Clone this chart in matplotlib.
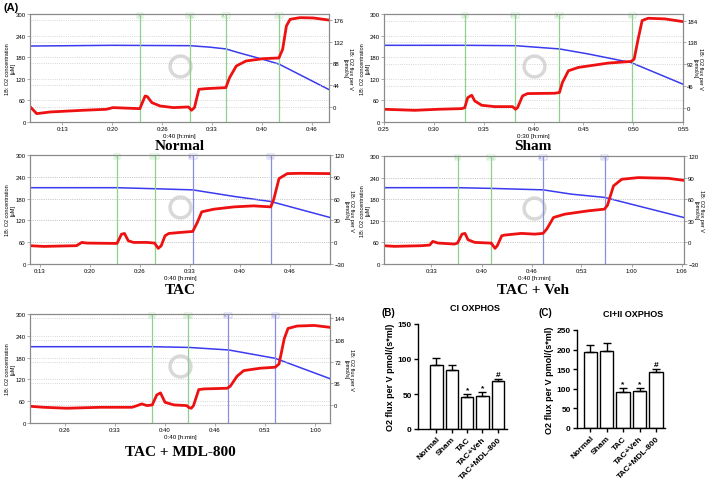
import numpy as np
import matplotlib.pyplot as plt

plt.rcParams['font.family'] = ['Liberation Sans', 'DejaVu Sans']

# O2 flux (red, right axis) and O2 concentration (blue, left axis), time in minutes
normal_flux_t = [9.0, 9.9, 11.7, 16.1, 19.2, 20.1, 23.7, 24.4, 24.7, 25.3, 26.4, 28.2, 30.2, 30.6, 31.0,
                 31.6, 32.6, 35.2, 35.7, 36.6, 37.9, 40.2, 42.3, 42.8, 43.3, 43.8, 45.1, 46.9, 48.9]
normal_flux = [0.7, -13.5, -10.1, -6.7, -4.7, -1.3, -3.4, 22.2, 20.9, 8.8, 2.0, -1.3, 0.0, -6.7, -1.3,
               35.7, 37.1, 39.1, 59.3, 82.9, 93.0, 97.7, 99.1, 116.6, 163.8, 177.3, 180.6, 180.0, 175.9]
normal_o2_t = [9, 20, 30.4, 33, 35.2, 37, 40, 42.3, 49]
normal_o2 = [211, 213, 212, 208, 203, 192, 175, 161, 90]
normal_events = [23.7, 30.4, 35.2, 42.3]

sham_flux_t = [25.0, 28.1, 30.4, 32.8, 33.1, 33.4, 33.8, 34.1, 34.8, 36.1, 37.9, 38.2, 38.4, 38.9,
               39.4, 42.1, 42.6, 42.9, 43.5, 44.5, 47.5, 49.8, 50.1, 50.5, 50.9, 51.5, 53.2, 55.0]
sham_flux = [-3.5, -5.7, -3.5, -2.1, 0.0, 21.2, 26.2, 14.2, 5.0, 2.1, 2.1, -3.5, 0.0, 24.8,
             29.7, 30.4, 31.9, 53.1, 77.9, 85.0, 94.2, 97.7, 102.7, 145.2, 184.1, 189.0, 187.6, 181.9]
sham_o2_t = [25, 33.1, 38.2, 42.6, 45.5, 49.8, 55]
sham_o2 = [213, 213, 212, 203, 189, 165, 105]
sham_events = [33.1, 38.1, 42.6, 49.9]

tac_flux_t = [12.0, 13.8, 18.2, 18.9, 19.6, 23.6, 24.2, 24.6, 25.1, 25.8, 27.6, 28.6, 29.1, 29.5, 30.0,
              30.5, 32.0, 33.7, 34.3, 34.9, 36.5, 39.2, 41.8, 44.1, 44.5, 45.2, 46.3, 48.1, 52.0]
tac_flux = [-4.8, -5.8, -4.8, -0.3, -1.2, -1.7, 11.0, 12.0, 2.0, -0.3, -0.3, -1.2, -8.5, -4.8, 8.8,
            12.0, 13.4, 14.8, 27.0, 41.8, 45.4, 48.6, 50.0, 48.6, 59.0, 87.5, 94.4, 94.8, 94.4]
tac_o2_t = [12, 23.6, 28.9, 33.7, 39.2, 44.1, 52]
tac_o2 = [210, 210, 207, 204, 186, 172, 128]
tac_events = [23.6, 28.6, 33.7, 44.1]

veh_flux_t = [27.0, 28.4, 32.0, 33.1, 33.5, 34.2, 36.4, 36.8, 37.4, 37.8, 38.2, 39.1, 41.1, 41.3, 41.8, 42.1,
              42.7, 43.1, 45.3, 47.1, 48.2, 48.7, 49.6, 51.1, 54.2, 56.4, 56.8, 57.6, 58.7, 60.9, 64.9, 66.9]
veh_flux = [-4.6, -5.5, -4.6, -3.7, 1.4, -0.9, -2.3, -0.9, 11.5, 12.5, 3.7, 0.0, -0.9, -0.9, -8.3, -4.6,
            9.2, 10.2, 12.5, 11.5, 12.5, 18.5, 34.6, 39.2, 43.8, 46.2, 51.7, 78.5, 87.7, 90.0, 89.0, 86.3]
veh_o2_t = [27, 36.8, 41.3, 48.2, 52, 56.4, 67]
veh_o2 = [212, 212, 210, 206, 194, 185, 129]
veh_events = [36.8, 41.3, 48.2, 56.4]

mdl_flux_t = [22.0, 23.8, 26.9, 31.4, 34.5, 35.6, 36.3, 36.9, 37.6, 38.3, 38.9, 39.4, 40.0, 41.2, 42.9, 43.2,
              43.5, 43.8, 44.5, 45.2, 48.3, 48.7, 49.6, 50.5, 52.7, 54.7, 55.2, 55.9, 56.4, 57.6, 59.9, 61.9]
mdl_flux = [-2.2, -3.9, -5.5, -3.9, -3.9, -3.9, -1.1, 1.7, -1.1, 0.0, 16.6, 20.0, 4.4, 0.0, -1.1, -4.4,
            -5.5, -1.1, 25.5, 26.6, 27.7, 31.0, 47.6, 57.0, 61.0, 62.6, 68.0, 110.0, 127.0, 131.0, 132.0, 129.0]
mdl_o2_t = [22, 38.3, 43.2, 48.5, 54.7, 62]
mdl_o2 = [210, 210, 208, 201, 178, 122]
mdl_events = [38.3, 43.1, 48.4, 54.7]

event_labels = ['Mit', 'Pmg', 'ADP', 'Suc']

# bar charts
groups = ['Normal', 'Sham', 'TAC', 'TAC+Veh', 'TAC+MDL-800']
ci_mean = [91, 84, 46, 47, 69]
ci_err = [10, 8, 4, 6, 2.5]
cii_mean = [194, 196, 93, 95, 144]
cii_err = [18, 20, 8, 6, 6]
sig_marks = ['', '', '*', '*', '#']

W, H = 709, 481
fig = plt.figure(figsize=(W / 100, H / 100), dpi=100)

GREEN = '#8fd08f'
PURPLE = '#8c8ce0'
GREY = '#8a8a8a'


def px_rect(left, top, right, bottom):
    return [left / W, 1 - bottom / H, (right - left) / W, (bottom - top) / H]


def trace_panel(box, flux_t, flux, o2_t, o2, events, ev_colors, xlim, xticks, xticklabels,
                rticks, rlim, xlabel, title, title_xy, lab_off):
    left, top, right, bottom = box
    ax = fig.add_axes(px_rect(*box))
    ax2 = ax.twinx()
    ax.set_xlim(*xlim)
    ax.set_ylim(0, 300)
    ax.set_yticks([0, 60, 120, 180, 240, 300])
    ax2.set_ylim(*rlim)
    ax2.set_yticks(rticks)
    ax.set_xticks(xticks)
    ax.set_xticklabels(xticklabels)
    for a in (ax, ax2):
        for s in a.spines.values():
            s.set_color(GREY)
            s.set_linewidth(0.8)
        a.tick_params(labelsize=4.3, length=2, width=0.5, color=GREY, pad=1)
        a.grid(axis='y', ls=':', color='#c8c8c8', lw=0.6)
    ymid = 1 - (top + bottom) / 2 / H
    fig.text((left - lab_off[0]) / W, ymid, '1B: O2 concentration\n[µM]', fontsize=4,
             rotation=90, ha='center', va='center', linespacing=1.1)
    fig.text((right + lab_off[1]) / W, ymid, '1B: O2 flux per V\n[pmol/s]', fontsize=4,
             rotation=270, ha='center', va='center', linespacing=1.1)
    ax.set_xlabel(xlabel, fontsize=4.5, labelpad=1)
    ax.plot(0.5, 0.52, 'o', ms=15, mfc='none', mec='#d8d8d8', mew=2.5, transform=ax.transAxes)
    ax.plot(o2_t, o2, color='#3a3af0', lw=1.1)
    for t, c, lab in zip(events, ev_colors, event_labels):
        ax2.axvline(t, color=c, lw=0.9)
        ax.text(t, 296, lab, fontsize=2.5, color=c, ha='center', va='center',
                bbox=dict(boxstyle='square,pad=0.15', fc='white', ec=c, lw=0.3))
    ax2.plot(flux_t, flux, color='#ee1111', lw=2.0)
    fig.text(title_xy[0] / W, 1 - title_xy[1] / H, title, family='Liberation Serif',
             fontweight='bold', fontsize=11, ha='center', va='center')


t40 = [13.33, 20, 26.67, 33.33, 40, 46.67]
t40_labels = ['0:13', '0:20', '0:26', '0:33', '0:40', '0:46']

trace_panel((30, 15, 329, 123), normal_flux_t, normal_flux, normal_o2_t, normal_o2,
            normal_events, [GREEN] * 4, (9, 49), t40, t40_labels,
            [0, 44, 88, 132, 176], (-30.4, 188), '0:40 [h:min]', 'Normal', (180, 147), (20, 19))
trace_panel((384, 15, 683, 123), sham_flux_t, sham_flux, sham_o2_t, sham_o2,
            sham_events, [GREEN] * 4, (25, 55), [25, 30, 35, 40, 45, 50, 55],
            ['0:25', '0:30', '0:35', '0:40', '0:45', '0:50', '0:55'],
            [0, 46, 92, 138, 184], (-30.4, 198), '0:30 [h:min]', 'Sham', (533, 147), (19, 15))
trace_panel((30, 156, 330, 265), tac_flux_t, tac_flux, tac_o2_t, tac_o2,
            tac_events, [GREEN, GREEN, PURPLE, PURPLE], (12, 52), t40, t40_labels,
            [-30, 0, 30, 60, 90, 120], (-30, 120), '0:40 [h:min]', 'TAC', (180, 290), (20, 19))
trace_panel((384, 157, 684, 265), veh_flux_t, veh_flux, veh_o2_t, veh_o2,
            veh_events, [GREEN, GREEN, PURPLE, PURPLE], (27, 67),
            [33.33, 40, 46.67, 53.33, 60, 66.67], ['0:33', '0:40', '0:46', '0:53', '1:00', '1:06'],
            [-30, 0, 30, 60, 90, 120], (-30, 120), '0:40 [h:min]', 'TAC + Veh', (533, 290), (19, 15))
trace_panel((30, 315, 330, 424), mdl_flux_t, mdl_flux, mdl_o2_t, mdl_o2,
            mdl_events, [GREEN, GREEN, PURPLE, PURPLE], (22, 62),
            [26.67, 33.33, 40, 46.67, 53.33, 60], ['0:26', '0:33', '0:40', '0:46', '0:53', '1:00'],
            [0, 36, 72, 108, 144], (-30, 151), '0:40 [h:min]', 'TAC + MDL-800', (180, 453), (20, 19))

fig.text(3 / W, 1 - 8 / H, '(A)', fontsize=8, fontweight='bold', va='center')


def bar_panel(rect, means, errs, ymax, step, xlim, title, title_xy, letter, letter_xy):
    ax = fig.add_axes(rect)
    x = np.arange(len(groups))
    ax.bar(x, means, width=0.8, color='white', edgecolor='black', lw=1.0)
    ax.errorbar(x, means, yerr=[[0] * len(errs), errs], fmt='none', ecolor='black',
                elinewidth=1.0, capsize=3, capthick=1.0)
    for xi, m, e, s in zip(x, means, errs, sig_marks):
        if s:
            ax.text(xi, m + e + ymax * 0.01, s, ha='center', va='bottom', fontsize=6, fontweight='bold')
    ax.set_xlim(*xlim)
    ax.set_ylim(0, ymax)
    ax.set_yticks(np.arange(0, ymax + 1, step))
    ax.set_xticks(x)
    ax.set_xticklabels(groups, rotation=45, ha='right', rotation_mode='anchor')
    ax.spines['top'].set_visible(False)
    ax.spines['right'].set_visible(False)
    for s in ('left', 'bottom'):
        ax.spines[s].set_linewidth(1.0)
    ax.tick_params(labelsize=6, width=1.0, length=3, pad=1.5)
    for lab in ax.get_xticklabels() + ax.get_yticklabels():
        lab.set_fontweight('bold')
    ax.set_ylabel('O2 flux per V pmol/(s*ml)', fontsize=6.5, fontweight='bold', labelpad=2)
    fig.text(title_xy[0] / W, 1 - title_xy[1] / H, title, fontsize=6.5, fontweight='bold',
             ha='center', va='center')
    fig.text(letter_xy[0] / W, 1 - letter_xy[1] / H, letter, fontsize=7, fontweight='bold',
             ha='center', va='center')


bar_panel(px_rect(418, 325, 507, 430), ci_mean, ci_err, 150, 50, (-1.2, 4.6),
          'CI OXPHOS', (475, 309), '(B)', (388, 313))
bar_panel(px_rect(577, 331, 665, 429), cii_mean, cii_err, 250, 50, (-0.8, 4.55),
          'CI+II OXPHOS', (633, 315), '(C)', (545, 313))

fig.savefig('out.png', dpi=100)
